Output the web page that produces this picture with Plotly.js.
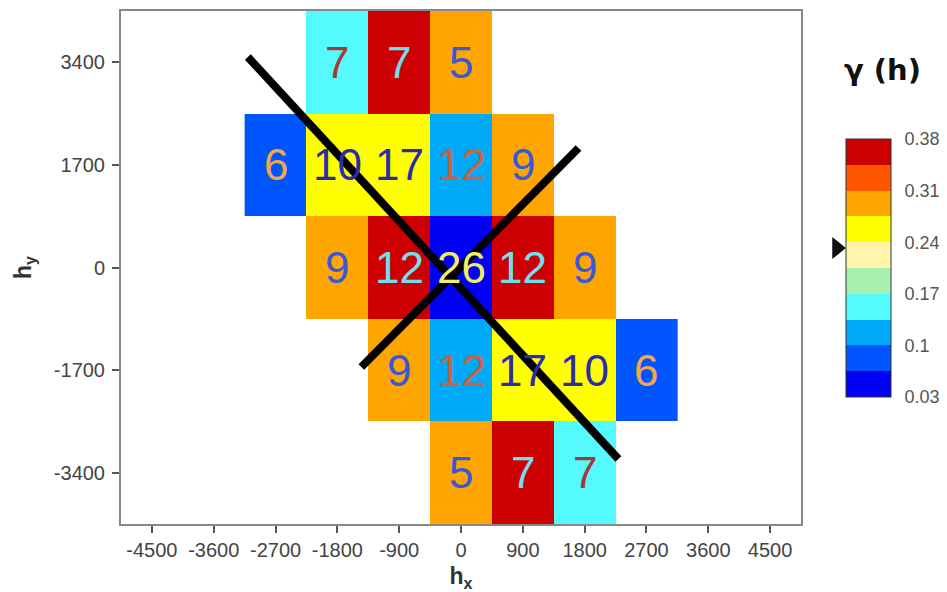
<!DOCTYPE html>
<html>
<head>
<meta charset="utf-8">
<script src="https://cdn.plot.ly/plotly-3.0.1.min.js"></script>
<style>html,body{margin:0;padding:0;background:#fff}#chart{width:947px;height:592px}</style>
</head>
<body>
<div id="chart"></div>
<script>
// ---- data ----
const hx = [-2700, -1800, -900, 0, 900, 1800, 2700];
const hy = [-3400, -1700, 0, 1700, 3400];
// semivariance gamma(h) per cell (rows follow hy, columns follow hx)
const gammaRowM3400 = [null, null, null, 0.29, 0.36, 0.15, null];
const gammaRowM1700 = [null, null, 0.29, 0.12, 0.255, 0.255, 0.08];
const gammaRow0     = [null, 0.29, 0.36, 0.045, 0.36, 0.29, null];
const gammaRowP1700 = [0.08, 0.255, 0.255, 0.12, 0.29, null, null];
const gammaRowP3400 = [null, 0.15, 0.36, 0.29, null, null, null];
// number of pairs per cell
const pairsRowM3400 = [null, null, null, 5, 7, 7, null];
const pairsRowM1700 = [null, null, 9, 12, 17, 10, 6];
const pairsRow0     = [null, 9, 12, 26, 12, 9, null];
const pairsRowP1700 = [6, 10, 17, 12, 9, null, null];
const pairsRowP3400 = [null, 7, 7, 5, null, null, null];
// colour bar
const gammaMin = 0.03, gammaMax = 0.38;
const cbTicks = [0.03, 0.1, 0.17, 0.24, 0.31, 0.38];
const sampleVariance = 0.232;
// anisotropy direction lines (endpoints)
const line1X = [-3103, 2291], line1Y = [3488, -3173];
const line2X = [-1450, 1711], line2Y = [-1649, 1980];
const xTicks = [-4500, -3600, -2700, -1800, -900, 0, 900, 1800, 2700, 3600, 4500];
const yTicks = [-3400, -1700, 0, 1700, 3400];

// ---- styles ----
const bandColors = ['#0000F5', '#0055FF', '#00AAF8', '#55FAFF', '#A8F0B0',
                    '#FFF5A8', '#FFFF00', '#FFA500', '#FF5500', '#CC0000'];
const textColors = ['#F2F060', '#F0A848', '#CC6040', '#A83838', '#505050',
                    '#505050', '#2C2CA8', '#3858D8', '#40C0E0', '#70E0F0'];
const FONT = 'Arial, Liberation Sans, sans-serif';

const gammaZ = [gammaRowM3400, gammaRowM1700, gammaRow0, gammaRowP1700, gammaRowP3400];
const pairsZ = [pairsRowM3400, pairsRowM1700, pairsRow0, pairsRowP1700, pairsRowP3400];

const nb = bandColors.length;
const colorscale = [];
bandColors.forEach((c, i) => { colorscale.push([i / nb, c]); colorscale.push([(i + 1) / nb, c]); });

function bandOf(v) {
  let b = Math.floor((v - gammaMin) / (gammaMax - gammaMin) * nb);
  return Math.max(0, Math.min(nb - 1, b));
}

const annotations = [];
for (let r = 0; r < hy.length; r++) {
  for (let c = 0; c < hx.length; c++) {
    const g = gammaZ[r][c];
    if (g === null) continue;
    annotations.push({
      x: hx[c], y: hy[r], xref: 'x', yref: 'y', text: String(pairsZ[r][c]),
      showarrow: false, font: {family: FONT, size: 44, color: textColors[bandOf(g)]}
    });
  }
}

// plot area geometry (pixels)
const W = 947, H = 592, mL = 121, mR = 146, mT = 11, mB = 68;
const plotH = H - mT - mB;
const cbLenPx = 258, cbCenterPx = 268;
const cbLen = cbLenPx / plotH;
const cbY = (H - mB - cbCenterPx) / plotH;
const cbBottom = cbY - cbLen / 2;
const triY = cbBottom + (sampleVariance - gammaMin) / (gammaMax - gammaMin) * cbLen;
const triTipX = 1.066, triBaseX = 1.046, triHalf = 11 / plotH;

annotations.push({
  xref: 'paper', yref: 'paper', x: 1.12, y: 0.885, xanchor: 'center', yanchor: 'middle',
  text: '<b>γ (h)</b>', showarrow: false,
  font: {family: 'DejaVu Sans, sans-serif', size: 29, color: '#111'}
});

const heat = {
  type: 'heatmap', x: hx, y: hy, z: gammaZ, zmin: gammaMin, zmax: gammaMax,
  colorscale: colorscale, hoverongaps: false, xgap: 0, ygap: 0,
  colorbar: {
    x: 1.066, xanchor: 'left', xpad: 0, ypad: 0,
    y: cbY, yanchor: 'middle', len: cbLen, lenmode: 'fraction',
    thickness: 45, thicknessmode: 'pixels',
    outlinewidth: 1, outlinecolor: '#333',
    tickvals: cbTicks, ticktext: cbTicks.map(String),
    ticks: 'outside', ticklen: 10, tickcolor: 'rgba(0,0,0,0)',
    tickfont: {family: FONT, size: 18, color: '#555'}
  }
};
const l1 = {type: 'scatter', mode: 'lines', x: line1X, y: line1Y, line: {color: '#000', width: 8}, hoverinfo: 'skip', showlegend: false};
const l2 = {type: 'scatter', mode: 'lines', x: line2X, y: line2Y, line: {color: '#000', width: 8}, hoverinfo: 'skip', showlegend: false};

const axisFont = {family: FONT, size: 20, color: '#444'};
const layout = {
  width: W, height: H, margin: {l: mL, r: mR, t: mT, b: mB, autoexpand: false},
  paper_bgcolor: '#fff', plot_bgcolor: '#fff', showlegend: false,
  xaxis: {
    range: [-4950, 4950], tickvals: xTicks, ticktext: xTicks.map(String),
    ticks: 'outside', ticklen: 7, tickwidth: 2, tickcolor: '#555',
    showline: true, mirror: true, linecolor: '#888', linewidth: 2,
    showgrid: false, zeroline: false, tickfont: axisFont,
    title: {text: '<b>h<sub>x</sub></b>', font: {family: FONT, size: 23, color: '#333'}, standoff: 8}
  },
  yaxis: {
    range: [-4250, 4250], tickvals: yTicks, ticktext: yTicks.map(String),
    ticks: 'outside', ticklen: 7, tickwidth: 2, tickcolor: '#555', ticklabelstandoff: 3,
    showline: true, mirror: true, linecolor: '#888', linewidth: 2,
    showgrid: false, zeroline: false, tickfont: axisFont,
    title: {text: '<b>h<sub>y</sub></b>', font: {family: FONT, size: 23, color: '#333'}, standoff: 16}
  },
  annotations: annotations,
  shapes: [{
    type: 'path', xref: 'paper', yref: 'paper',
    path: `M ${triBaseX} ${triY + triHalf} L ${triTipX} ${triY} L ${triBaseX} ${triY - triHalf} Z`,
    fillcolor: '#111', line: {width: 0}
  }]
};
Plotly.newPlot('chart', [heat, l1, l2], layout, {displayModeBar: false, staticPlot: true});
</script>
</body>
</html>
